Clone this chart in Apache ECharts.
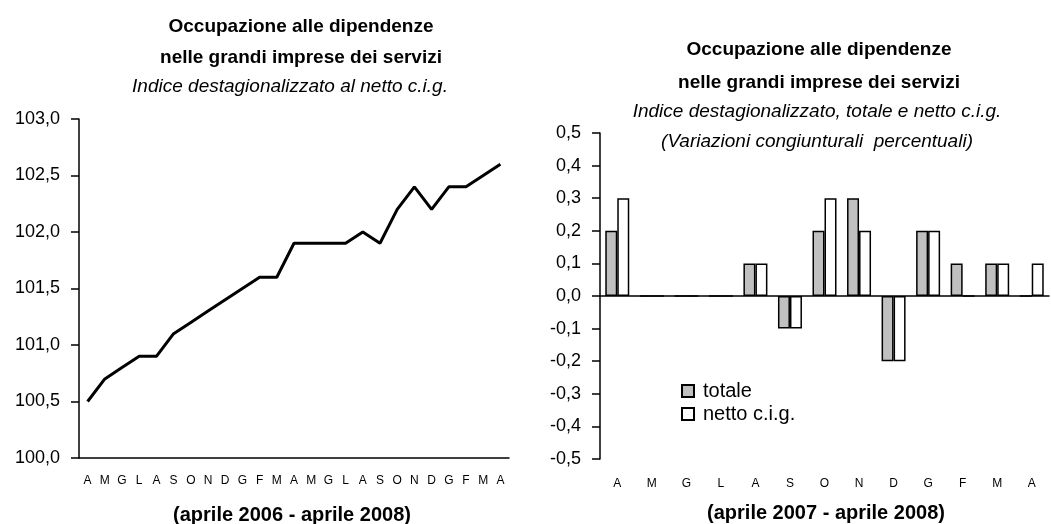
<!DOCTYPE html>
<html>
<head>
<meta charset="utf-8">
<script src="https://cdn.jsdelivr.net/npm/echarts@6/dist/echarts.min.js"></script>
<style>
  html, body { margin: 0; padding: 0; background: #fff; }
  #chart { width: 1051px; height: 524px; }
</style>
</head>
<body>
<div id="chart"></div>
<script>
// dati
var mesiIndice = ['A','M','G','L','A','S','O','N','D','G','F','M','A','M','G','L','A','S','O','N','D','G','F','M','A'];
var indiceNetto = [100.5, 100.7, 100.8, 100.9, 100.9, 101.1, 101.2, 101.3, 101.4, 101.5, 101.6, 101.6,
    101.9, 101.9, 101.9, 101.9, 102.0, 101.9, 102.2, 102.4, 102.2, 102.4, 102.4, 102.5, 102.6];

var mesiVar = ['A','M','G','L','A','S','O','N','D','G','F','M','A'];
var varTotale = [0.2, 0, 0, 0, 0.1, -0.1, 0.2, 0.3, -0.2, 0.2, 0.1, 0.1, 0];
var varNetto  = [0.3, 0, 0, 0, 0.1, -0.1, 0.3, 0.2, -0.2, 0.2, 0, 0.1, 0.1];

var FONT = "'Liberation Sans', Arial, sans-serif";

var virgola = function (v) {
    return v.toFixed(1).replace('.', ',');
};

//titoli
var riga = function (testo, x, y, size, weight, style) {
    return {
        text: testo,
        left: x,
        top: y,
        textAlign: 'center',
        textStyle: {
            fontFamily: FONT,
            fontSize: size,
            fontWeight: weight,
            fontStyle: style,
            color: '#000'
        }
    };
};

var chart = echarts.init(document.getElementById('chart'));

var option = {
    backgroundColor: '#fff',
    animation: false,
    title: [
        riga('Occupazione alle dipendenze', 296, 12, 19, 'bold', 'normal'),
        riga('nelle grandi imprese dei servizi', 296, 43, 19, 'bold', 'normal'),
        riga('Indice destagionalizzato al netto c.i.g.', 285, 72, 19, 'normal', 'italic'),
        riga('(aprile 2006 - aprile 2008)', 287, 500, 20, 'bold', 'normal'),

        riga('Occupazione alle dipendenze', 814, 35, 19, 'bold', 'normal'),
        riga('nelle grandi imprese dei servizi', 814, 68, 19, 'bold', 'normal'),
        riga('Indice destagionalizzato, totale e netto c.i.g.', 812, 97, 19, 'normal', 'italic'),
        riga('(Variazioni congiunturali  percentuali)', 812, 127, 19, 'normal', 'italic'),
        riga('(aprile 2007 - aprile 2008)', 821, 498, 20, 'bold', 'normal')
    ],
    legend: {
        orient: 'vertical',
        left: 676,
        top: 376,
        itemWidth: 12,
        itemHeight: 12,
        itemGap: 3,
        icon: 'rect',
        data: ['totale', 'netto c.i.g.'],
        textStyle: { fontFamily: FONT, fontSize: 20, color: '#000', padding: [0, 0, 0, 4] }
    },
    grid: [
        { left: 79, top: 119, width: 430, height: 339 },
        { left: 600, top: 133, width: 449, height: 326 }
    ],
    xAxis: [
        {
            gridIndex: 0,
            type: 'category',
            data: mesiIndice,
            boundaryGap: true,
            axisLine: { lineStyle: { color: '#000', width: 1.5 } },
            axisTick: { length: 5, interval: 0, lineStyle: { color: '#000', width: 1.5 } },
            axisLabel: { interval: 0, margin: 17, fontFamily: FONT, fontSize: 12, color: '#000' }
        },
        {
            gridIndex: 1,
            type: 'category',
            data: mesiVar,
            axisLine: { onZero: true, lineStyle: { color: '#000', width: 1.5 } },
            axisTick: { length: 5, interval: 0, lineStyle: { color: '#000', width: 1.5 } },
            axisLabel: { show: false }
        },
        {
            gridIndex: 1,
            type: 'category',
            data: mesiVar,
            position: 'bottom',
            axisLine: { show: false, onZero: false },
            axisTick: { show: false },
            axisLabel: { interval: 0, margin: 19, fontFamily: FONT, fontSize: 12, color: '#000' }
        }
    ],
    yAxis: [
        {
            gridIndex: 0,
            type: 'value',
            min: 100,
            max: 103,
            interval: 0.5,
            splitLine: { show: false },
            axisLine: { show: true, lineStyle: { color: '#000', width: 1.5 } },
            axisTick: { show: true, length: 8, lineStyle: { color: '#000', width: 1.5 } },
            axisLabel: { margin: 19, fontFamily: FONT, fontSize: 18, color: '#000', formatter: virgola }
        },
        {
            gridIndex: 1,
            type: 'value',
            min: -0.5,
            max: 0.5,
            interval: 0.1,
            splitLine: { show: false },
            axisLine: { show: true, lineStyle: { color: '#000', width: 1.5 } },
            axisTick: { show: true, length: 8, lineStyle: { color: '#000', width: 1.5 } },
            axisLabel: { margin: 19, fontFamily: FONT, fontSize: 18, color: '#000', formatter: virgola }
        }
    ],
    series: [
        {
            name: 'indice',
            type: 'line',
            xAxisIndex: 0,
            yAxisIndex: 0,
            data: indiceNetto,
            symbol: 'none',
            lineStyle: { color: '#000', width: 3 }
        },
        {
            name: 'totale',
            type: 'bar',
            xAxisIndex: 1,
            yAxisIndex: 1,
            data: varTotale,
            barWidth: 12,
            barGap: 0,
            itemStyle: { color: '#c0c0c0', borderColor: '#000', borderWidth: 1.5 }
        },
        {
            name: 'netto c.i.g.',
            type: 'bar',
            xAxisIndex: 1,
            yAxisIndex: 1,
            data: varNetto,
            barWidth: 12,
            barGap: 0,
            itemStyle: { color: '#fff', borderColor: '#000', borderWidth: 1.5 }
        }
    ]
};

chart.setOption(option);
</script>
</body>
</html>
